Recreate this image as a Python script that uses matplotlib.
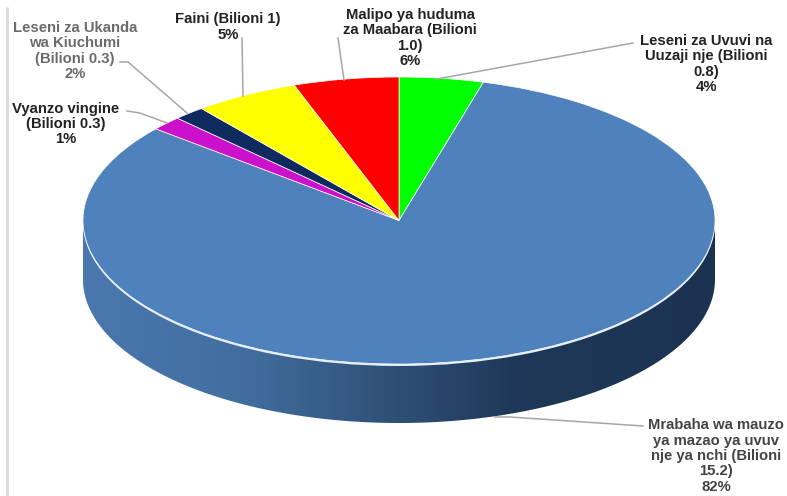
import numpy as np
import matplotlib
matplotlib.use("Agg")
import matplotlib.pyplot as plt
from matplotlib.colors import LinearSegmentedColormap
from matplotlib.patches import Polygon

W, H = 787, 496
CX, CY, RX, RY, DEPTH = 399.0, 220.5, 316.0, 143.5, 59.0

labels = ["Leseni za Uvuvi na\nUuzaji nje (Bilioni\n0.8)\n4%",
          "Mrabaha wa mauzo\nya mazao ya uvuv\nnje ya nchi (Bilioni\n15.2)\n82%",
          "Vyanzo vingine\n(Bilioni 0.3)\n1%",
          "Leseni za Ukanda\nwa Kiuchumi\n(Bilioni 0.3)\n2%",
          "Faini (Bilioni 1)\n5%",
          "Malipo ya huduma\nza Maabara (Bilioni\n1.0)\n6%"]
values = [0.8, 15.2, 0.3, 0.3, 1.0, 1.0]
colors = ["#00FF00", "#4F81BD", "#CC11CC", "#0F2A5F", "#FFFF00", "#FF0000"]
label_colors = ["#222222", "#444444", "#222222", "#6B6B6B", "#222222", "#222222"]
label_pos = [(706, 64), (716, 456), (66, 124), (75, 51), (228, 27), (410, 38)]

plt.rcParams["font.family"] = ["Liberation Sans", "DejaVu Sans"]
fig = plt.figure(figsize=(W / 100, H / 100), dpi=100, facecolor="white")
ax = fig.add_axes([0, 0, 1, 1])

# side wall: horizontal gradient clipped to the lower half of the ellipse, dropped by the depth
cmap = LinearSegmentedColormap.from_list("side", [(0, "#4A78AE"), (0.25, "#426E9F"),
                                                  (0.5, "#2E4F75"), (0.68, "#1F3859"), (1, "#1B3350")])
d = DEPTH / RY
th = np.linspace(np.pi, 2 * np.pi, 400)
outline = np.vstack([np.column_stack([np.cos(th), np.sin(th) - d]),
                     np.column_stack([np.cos(th[::-1]), np.sin(th[::-1])])])
im = ax.imshow(np.linspace(0, 1, 512)[None, :], cmap=cmap, extent=(-1, 1, -1 - d, 0.02),
               aspect="auto", zorder=1)
clip = Polygon(outline, closed=True, transform=ax.transData, facecolor="none", edgecolor="none")
ax.add_patch(clip)
im.set_clip_path(clip)

# pale rim: a crescent showing only under the lower edge of the top face
ax.pie([1], radius=1.0, center=(0, -0.014), colors=["#E4EEF8"],
       wedgeprops=dict(linewidth=0, zorder=2))

wedges, _ = ax.pie(values, colors=colors, startangle=90, counterclock=False,
                   wedgeprops=dict(edgecolor="white", linewidth=0.5))
for w in wedges:
    w.set_zorder(3)

ax.set_aspect("auto")
ax.set_xlim(-CX / RX, (W - CX) / RX)
ax.set_ylim((CY - H) / RY, CY / RY)
ax.axis("off")


def px(x, y):
    return (x - CX) / RX, (CY - y) / RY


for (x, y), s, c in zip(label_pos, labels, label_colors):
    ax.text(*px(x, y), s, ha="center", va="center", fontsize=10.7, fontweight="bold",
            color=c, linespacing=1.13, zorder=6)

# leader lines
leaders = [[(633, 43), (437, 79)],
           [(643, 426), (510, 417), (495, 417)],
           [(127, 111), (140, 113), (167, 123)],
           [(120, 62), (128, 62), (187, 113)],
           [(242, 38), (243, 96)],
           [(338, 38), (344, 80)]]
for pts in leaders:
    xy = np.array([px(*p) for p in pts])
    ax.plot(xy[:, 0], xy[:, 1], color="#A6A6A6", lw=1.1, zorder=5)

# pale rule along the left edge
edge = np.array([px(7, 7), px(7, H)])
ax.plot(edge[:, 0], edge[:, 1], color="#DADADA", lw=2, solid_capstyle="butt", zorder=0)

fig.savefig("out.png", dpi=100)
